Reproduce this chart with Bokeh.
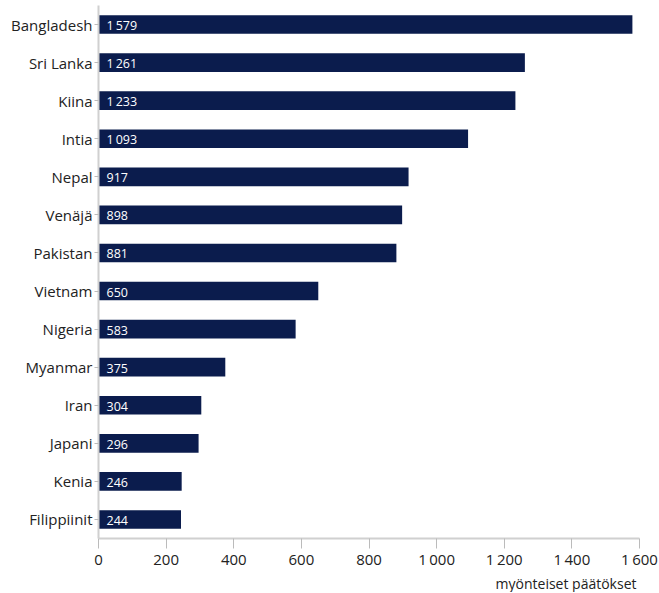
from bokeh.plotting import figure
from bokeh.models import ColumnDataSource, FactorRange, FixedTicker, CustomJSTickFormatter, Title
from bokeh.embed import file_html
from bokeh.resources import INLINE

countries = ["Bangladesh", "Sri Lanka", "Kiina", "Intia", "Nepal", "Venäjä", "Pakistan",
             "Vietnam", "Nigeria", "Myanmar", "Iran", "Japani", "Kenia", "Filippiinit"]
values = [1579, 1261, 1233, 1093, 917, 898, 881, 650, 583, 375, 304, 296, 246, 244]
x_ticks = [0, 200, 400, 600, 800, 1000, 1200, 1400, 1600]
x_title = "myönteiset päätökset"

def fmt(v):
    s = str(v)
    if len(s) > 3:
        s = s[:-3] + "\u2009" + s[-3:]
    return s

labels = [fmt(v) for v in values]
source = ColumnDataSource(dict(country=countries, value=values, label=labels))

p = figure(width=658, height=592, output_backend="svg", toolbar_location=None,
           y_range=FactorRange(factors=list(reversed(countries)), range_padding=0),
           x_range=(0, 1600))
p.min_border_top = 5
p.min_border_right = 19
p.min_border_left = 98
p.min_border_bottom = 0
p.outline_line_color = None
p.background_fill_color = "white"
p.border_fill_color = "white"
p.grid.grid_line_color = None

navy = "#0b1c4d"
p.hbar(y="country", right="value", left=0, height=0.49, source=source,
       fill_color=navy, line_color=None)
p.text(x=0, y="country", text="label", source=source, x_offset=8, y_offset=1,
       text_color="white", text_font_size="12.5px", text_baseline="middle",
       text_font={"value": "Open Sans"}, text_font_style="normal")

# x axis
p.xaxis.ticker = FixedTicker(ticks=x_ticks)
p.xaxis.formatter = CustomJSTickFormatter(code="""
    const s = String(Math.round(tick));
    return s.length > 3 ? s.slice(0, -3) + '\u2009' + s.slice(-3) : s;
""")
p.xaxis.axis_line_color = "#d0d0d0"
p.xaxis.axis_line_width = 2
p.xaxis.major_tick_line_color = "#bbbbbb"
p.xaxis.major_tick_in = 0
p.xaxis.major_tick_out = 10
p.xaxis.minor_tick_line_color = None
p.xaxis.major_label_text_font = "Open Sans"
p.xaxis.major_label_text_font_size = "15px"
p.xaxis.major_label_text_color = "#222222"
p.xaxis.major_label_standoff = 0

title = Title(text=x_title, align="right", offset=3, standoff=0,
              text_font="Open Sans", text_font_size="14px", text_font_style="normal",
              text_color="#222222", text_line_height=0.45)
p.add_layout(title, "below")

# y axis
p.yaxis.axis_line_color = "#d0d0d0"
p.yaxis.axis_line_width = 2
p.yaxis.major_tick_line_color = "#bbbbbb"
p.yaxis.major_tick_in = 0
p.yaxis.major_tick_out = 4
p.yaxis.minor_tick_line_color = None
p.yaxis.major_label_text_font = "Open Sans"
p.yaxis.major_label_text_font_size = "15px"
p.yaxis.major_label_text_color = "#222222"
p.yaxis.major_label_standoff = 2

open("out.html", "w").write(file_html(p, INLINE))
